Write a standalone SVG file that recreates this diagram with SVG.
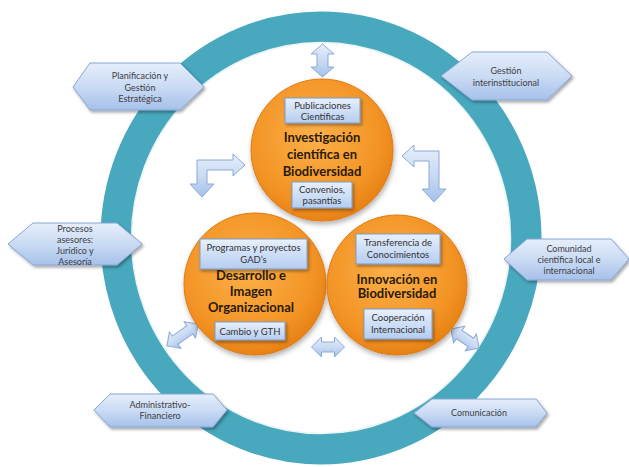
<svg xmlns="http://www.w3.org/2000/svg" width="629" height="467" viewBox="0 0 629 467">
<defs>
<linearGradient id="gBlue" x1="0" y1="0" x2="0" y2="1">
<stop offset="0" stop-color="#e6eefb"/><stop offset="0.5" stop-color="#cadbf4"/><stop offset="1" stop-color="#a6c1ea"/>
</linearGradient>
<linearGradient id="gBox" x1="0" y1="0" x2="0" y2="1">
<stop offset="0" stop-color="#e8f0fc"/><stop offset="1" stop-color="#b5cdf0"/>
</linearGradient>
<radialGradient id="gOrange" cx="0.45" cy="0.4" r="0.65">
<stop offset="0" stop-color="#fbb04a"/><stop offset="0.7" stop-color="#f39425"/><stop offset="1" stop-color="#e47c10"/>
</radialGradient>
<filter id="sh" x="-20%" y="-20%" width="150%" height="150%">
<feDropShadow dx="1.5" dy="2" stdDeviation="1.5" flood-color="#000" flood-opacity="0.35"/>
</filter>
<filter id="shc" x="-20%" y="-20%" width="150%" height="150%">
<feDropShadow dx="1" dy="3" stdDeviation="2.5" flood-color="#000" flood-opacity="0.3"/>
</filter>
<style>
.hex{fill:url(#gBlue);stroke:#86a6d5;stroke-width:1;filter:url(#sh)}
.arw{fill:url(#gBlue);stroke:#8aaad6;stroke-width:1}
.box{fill:url(#gBox);stroke:#7c9dcc;stroke-width:1;filter:url(#sh)}
.circ{fill:url(#gOrange);stroke:#e07a14;stroke-width:1;filter:url(#shc)}
.t{font-family:Lato,"Liberation Sans",sans-serif;font-size:9px;fill:#404040;text-anchor:middle}
.tb{font-family:Lato,"Liberation Sans",sans-serif;font-size:9.5px;fill:#333;text-anchor:middle}
.ttl{font-family:Lato,"Liberation Sans",sans-serif;font-size:13px;font-weight:bold;fill:#2a1a05;text-anchor:middle}
</style>
</defs>
<rect width="629" height="467" fill="#fff"/>
<g id="ring">
<ellipse cx="321" cy="238" rx="205" ry="211" fill="none" stroke="#48a8bd" stroke-width="31"/>
<ellipse cx="321" cy="238" rx="189.5" ry="195.5" fill="none" stroke="#e8f4f6" stroke-width="1.5"/>
</g>
<g id="connectors">
<path class="arw" d="M322.5,44 L334,54 L328,54 L328,67 L334,67 L322.5,77 L311,67 L317,67 L317,54 L311,54 Z"/>
<path class="arw" d="M245,165 L233,154 L233,160 L197,160 L197,184 L190,184 L202,197 L214,184 L207,184 L207,170 L233,170 L233,176 Z"/>
<path class="arw" d="M402,156 L414,145 L414,151 L439,151 L439,189 L446,189 L434,202 L422,189 L429,189 L429,161 L414,161 L414,167 Z"/>
<path class="arw" transform="translate(182.5,335) rotate(-35)" d="M-19,0 L-9,-10 L-9,-5 L9,-5 L9,-10 L19,0 L9,10 L9,5 L-9,5 L-9,10 Z"/>
<path class="arw" transform="translate(328,347)" d="M-16.5,0 L-6.5,-10 L-6.5,-5 L6.5,-5 L6.5,-10 L16.5,0 L6.5,10 L6.5,5 L-6.5,5 L-6.5,10 Z"/>
<path class="arw" transform="translate(465,338.5) rotate(34)" d="M-17,0 L-7,-10 L-7,-5 L7,-5 L7,-10 L17,0 L7,10 L7,5 L-7,5 L-7,10 Z"/>
</g>
<g id="hex-planificacion">
<polygon class="hex" points="73,87 90,63 180,63 204,87 180,110 90,110"/>
<text class="t" x="140" y="79">Planificación y</text>
<text class="t" x="140" y="91">Gestión</text>
<text class="t" x="140" y="102">Estratégica</text>
</g>
<g id="hex-gestion">
<polygon class="hex" points="441,76 472,52 547,52 572,76 547,100 472,100"/>
<text class="t" x="506" y="74">Gestión</text>
<text class="t" x="506" y="86">interinstitucional</text>
</g>
<g id="hex-procesos">
<polygon class="hex" points="8,244 33,223 117,223 142,244 117,265 33,265"/>
<text class="t" x="75" y="232">Procesos</text>
<text class="t" x="75" y="243">asesores:</text>
<text class="t" x="75" y="254">Jurídico y</text>
<text class="t" x="75" y="265">Asesoría</text>
</g>
<g id="hex-comunidad">
<polygon class="hex" points="504,259 527,239 611,239 629,259 611,280 527,280"/>
<text class="t" x="569" y="252">Comunidad</text>
<text class="t" x="569" y="263">científica local e</text>
<text class="t" x="569" y="274">internacional</text>
</g>
<g id="hex-administrativo">
<polygon class="hex" points="94,410 110,394 213,394 227,410 213,427 110,427"/>
<text class="t" x="160" y="408">Administrativo-</text>
<text class="t" x="160" y="419">Financiero</text>
</g>
<g id="hex-comunicacion">
<polygon class="hex" points="414,413 432,399 536,399 547,413 536,427 432,427"/>
<text class="t" x="479" y="416">Comunicación</text>
</g>
<g id="circle-investigacion">
<circle class="circ" cx="322" cy="150" r="71"/>
<rect class="box" x="285" y="98" width="75" height="25"/>
<text class="tb" x="322.5" y="108.5">Publicaciones</text>
<text class="tb" x="322.5" y="119.5">Científicas</text>
<text class="ttl" x="322" y="142">Investigación</text>
<text class="ttl" x="322" y="159">científica en</text>
<text class="ttl" x="322" y="176">Biodiversidad</text>
<rect class="box" x="292" y="182" width="60" height="26"/>
<text class="tb" x="322" y="193">Convenios,</text>
<text class="tb" x="322" y="204">pasantías</text>
</g>
<g id="circle-desarrollo">
<circle class="circ" cx="255" cy="284" r="71"/>
<rect class="box" x="200" y="239" width="107" height="30"/>
<text class="tb" x="253.5" y="250.5">Programas y proyectos</text>
<text class="tb" x="253.5" y="262.5">GAD’s</text>
<text class="ttl" x="251" y="280">Desarrollo e</text>
<text class="ttl" x="251" y="296">Imagen</text>
<text class="ttl" x="251" y="312">Organizacional</text>
<rect class="box" x="215" y="322" width="70" height="18"/>
<text class="tb" x="250" y="334.5">Cambio y GTH</text>
</g>
<g id="circle-innovacion">
<circle class="circ" cx="397" cy="285" r="70"/>
<rect class="box" x="356" y="234" width="84" height="30"/>
<text class="tb" x="398" y="245.5">Transferencia de</text>
<text class="tb" x="398" y="257.5">Conocimientos</text>
<text class="ttl" x="397" y="283.5">Innovación en</text>
<text class="ttl" x="397" y="298">Biodiversidad</text>
<rect class="box" x="364" y="309" width="68" height="30"/>
<text class="tb" x="398" y="320.5">Cooperación</text>
<text class="tb" x="398" y="332.5">Internacional</text>
</g>
</svg>
